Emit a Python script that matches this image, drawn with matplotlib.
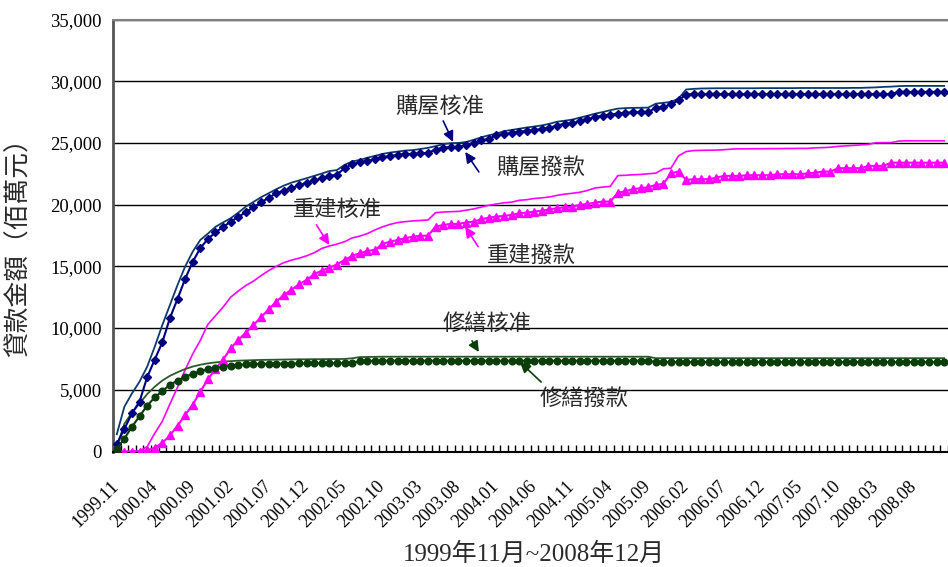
import numpy as np
import matplotlib
matplotlib.use("Agg")
import matplotlib.pyplot as plt
from matplotlib.ticker import FuncFormatter, FixedLocator
from matplotlib.transforms import ScaledTranslation

# ---- data: monthly cumulative loans, 1999.11 .. 2008.12 (unit: 百萬元) ----
tick_labels = ["1999.11", "2000.04", "2000.09", "2001.02", "2001.07", "2001.12",
               "2002.05", "2002.10", "2003.03", "2003.08", "2004.01", "2004.06",
               "2004.11", "2005.04", "2005.09", "2006.02", "2006.07", "2006.12",
               "2007.05", "2007.10", "2008.03", "2008.08"]

purchase_approved = [
    1400, 3630, 4710, 5660, 6870, 8490, 10250, 11870, 13490, 14980,
    16190, 17140, 17650, 18200, 18560, 18900, 19350, 19840, 20220, 20600,
    20920, 21250, 21540, 21780, 21960, 22140, 22330, 22520, 22720, 22800,
    23220, 23500, 23620, 23800, 23950, 24110, 24220, 24300, 24380, 24420,
    24510, 24600, 24740, 24900, 24980, 25000, 25070, 25250, 25450, 25620,
    25750, 25950, 26050, 26150, 26250, 26330, 26420, 26550, 26720, 26800,
    26890, 27050, 27200, 27370, 27500, 27650, 27780, 27820, 27840, 27850,
    27860, 28180, 28250, 28320, 28590, 29330, 29380, 29410, 29420, 29430,
    29430, 29430, 29430, 29430, 29430, 29440, 29440, 29440, 29440, 29440,
    29450, 29450, 29450, 29450, 29450, 29450, 29450, 29460, 29460, 29480,
    29500, 29540, 29560, 29600, 29620, 29620, 29620, 29620, 29620, 29620]

purchase_paid = [
    600, 1830, 3090, 4050, 6020, 7450, 8850, 10820, 12360, 13980,
    15370, 16470, 17220, 17750, 18190, 18620, 19000, 19390, 19780, 20190,
    20550, 20920, 21130, 21340, 21560, 21770, 21960, 22140, 22300, 22440,
    22950, 23270, 23430, 23540, 23670, 23830, 23940, 24020, 24080, 24100,
    24150, 24200, 24460, 24610, 24680, 24680, 24810, 24990, 25200, 25330,
    25620, 25740, 25800, 25900, 26000, 26060, 26100, 26230, 26410, 26550,
    26580, 26760, 26910, 27080, 27220, 27300, 27380, 27440, 27470, 27470,
    27480, 27870, 27920, 28120, 28450, 28920, 28960, 28960, 28960, 28960,
    28960, 28960, 28960, 28960, 28960, 28960, 28960, 28960, 28960, 28960,
    28960, 28960, 28960, 28960, 28960, 28960, 28960, 28960, 28960, 28960,
    28960, 28960, 28960, 29130, 29130, 29130, 29130, 29130, 29130, 29130]

rebuild_approved = [
    0, 0, 0, 50, 390, 1470, 2450, 3850, 5200, 6600,
    7900, 9000, 10300, 11000, 11700, 12500, 13000, 13450, 13800, 14250,
    14650, 15000, 15300, 15500, 15660, 15850, 16100, 16450, 16650, 16800,
    17000, 17300, 17450, 17650, 17950, 18200, 18400, 18550, 18620, 18680,
    18720, 18760, 19350, 19400, 19430, 19450, 19550, 19650, 19800, 19950,
    20050, 20150, 20200, 20350, 20400, 20500, 20550, 20620, 20750, 20850,
    20920, 21000, 21150, 21350, 21420, 21480, 22350, 22380, 22420, 22450,
    22500, 22550, 22900, 22950, 23950, 24300, 24380, 24400, 24410, 24420,
    24450, 24500, 24520, 24520, 24530, 24530, 24540, 24540, 24550, 24550,
    24560, 24560, 24600, 24620, 24650, 24720, 24760, 24800, 24840, 24880,
    25020, 25020, 25030, 25150, 25170, 25170, 25170, 25170, 25170, 25170]

rebuild_paid = [
    0, 0, 0, 0, 100, 300, 700, 1300, 2100, 2950,
    3800, 4850, 5850, 6700, 7450, 8350, 9040, 9630, 10250, 10880,
    11520, 12140, 12680, 13090, 13550, 13900, 14360, 14650, 14900, 15150,
    15520, 15840, 16060, 16250, 16330, 16820, 17000, 17140, 17280, 17410,
    17470, 17490, 18220, 18350, 18440, 18440, 18550, 18630, 18810, 18950,
    19030, 19080, 19170, 19300, 19360, 19430, 19510, 19620, 19710, 19790,
    19840, 19980, 20060, 20160, 20250, 20250, 20950, 21100, 21250, 21330,
    21410, 21600, 21680, 22540, 22680, 22000, 22060, 22060, 22060, 22190,
    22330, 22330, 22330, 22380, 22380, 22380, 22380, 22460, 22460, 22460,
    22460, 22540, 22590, 22680, 22680, 22950, 22950, 22950, 22950, 23140,
    23140, 23140, 23400, 23400, 23400, 23400, 23400, 23400, 23400, 23400]

repair_approved = [
    400, 2250, 3150, 3900, 4650, 5250, 5750, 6130, 6420, 6680,
    6880, 7030, 7140, 7220, 7280, 7320, 7360, 7380, 7400, 7420,
    7430, 7440, 7450, 7460, 7470, 7470, 7480, 7480, 7490, 7490,
    7500, 7550, 7650, 7660, 7670, 7680, 7680, 7680, 7680, 7680,
    7680, 7680, 7680, 7680, 7680, 7680, 7680, 7680, 7680, 7680,
    7680, 7680, 7680, 7680, 7680, 7680, 7680, 7680, 7680, 7680,
    7680, 7680, 7680, 7680, 7680, 7680, 7680, 7680, 7680, 7680,
    7680, 7560, 7560, 7560, 7560, 7560, 7560, 7560, 7560, 7560,
    7560, 7560, 7560, 7560, 7560, 7560, 7560, 7560, 7560, 7560,
    7560, 7560, 7560, 7560, 7560, 7560, 7560, 7560, 7560, 7560,
    7560, 7560, 7560, 7560, 7560, 7560, 7560, 7560, 7560, 7560]

repair_paid = [
    230, 1050, 2010, 2860, 3720, 4380, 4900, 5400, 5750, 6040,
    6300, 6500, 6660, 6780, 6870, 6950, 7010, 7050, 7090, 7090,
    7100, 7110, 7120, 7120, 7130, 7130, 7140, 7140, 7150, 7150,
    7150, 7160, 7330, 7340, 7340, 7350, 7350, 7350, 7350, 7350,
    7350, 7350, 7350, 7350, 7350, 7350, 7350, 7350, 7350, 7350,
    7350, 7350, 7350, 7350, 7350, 7350, 7350, 7350, 7350, 7350,
    7350, 7350, 7350, 7350, 7350, 7350, 7350, 7350, 7350, 7350,
    7350, 7250, 7250, 7250, 7250, 7250, 7250, 7250, 7250, 7250,
    7250, 7250, 7250, 7250, 7250, 7250, 7250, 7250, 7250, 7250,
    7250, 7250, 7250, 7250, 7250, 7250, 7250, 7250, 7250, 7250,
    7250, 7250, 7250, 7250, 7250, 7250, 7250, 7250, 7250, 7250]

# ---- styling ----
CJK = ["Noto Sans CJK TC", "DejaVu Sans"]
SERIF = ["Liberation Serif", "Noto Sans CJK TC"]
NAVY = "#000080"
NAVY_LINE = "#0d3a6b"
MAGENTA = "#ff00ff"
GREEN = "#0b3d0b"
GREEN_LINE = "#2a5a2a"
TEXT = "#2a2a2a"

W, H = 948, 567
fig = plt.figure(figsize=(W / 100, H / 100), dpi=100)
ax = fig.add_axes([113 / W, 115.5 / H, 835 / W, 432 / H])

n = len(purchase_paid)
x = np.arange(n)

ax.plot(x, purchase_approved, color=NAVY_LINE, lw=1.3, zorder=3)
ax.plot(x, purchase_paid, color=NAVY, lw=1.5, marker="D", ms=4.2,
        mec=NAVY, mfc=NAVY, zorder=4)
ax.plot(x, rebuild_approved, color=MAGENTA, lw=1.2, zorder=3)
ax.plot(x, rebuild_paid, color=MAGENTA, lw=1.5, marker="^", ms=5.2,
        mec=MAGENTA, mfc=MAGENTA, zorder=4)
ax.plot(x, repair_approved, color=GREEN_LINE, lw=1.3, zorder=3)
ax.plot(x, repair_paid, color=GREEN, lw=1.5, marker="o", ms=4.8,
        mec=GREEN, mfc=GREEN, zorder=4)

ax.set_xlim(-0.5, n - 0.5)
ax.set_ylim(0, 35000)

# y axis
ax.set_yticks(np.arange(0, 35001, 5000))
ax.yaxis.set_major_formatter(FuncFormatter(lambda v, p: f"{int(v):,}"))
ax.yaxis.grid(True, color="black", lw=1.0)
ax.set_axisbelow(True)
ax.tick_params(axis="y", length=0, pad=8, labelsize=13.5)
for lab in ax.get_yticklabels():
    lab.set_fontfamily(SERIF)

# x axis: a tick mark between every month, a label every five months
ax.xaxis.set_minor_locator(FixedLocator(np.arange(-0.5, n, 1.0)))
ax.set_xticks(np.arange(0, n, 5)[:len(tick_labels)])
ax.set_xticklabels(tick_labels, rotation=45, ha="right", va="top",
                   rotation_mode="anchor", fontsize=13, family=SERIF)
ax.tick_params(axis="x", which="major", length=0, pad=19)
ax.tick_params(axis="x", which="minor", direction="in", length=5,
               width=1.0, color="black")
shift = ScaledTranslation(-6 / 100, 0, fig.dpi_scale_trans)
for lab in ax.get_xticklabels():
    lab.set_transform(lab.get_transform() + shift)

ax.spines["left"].set_color("#555555")
ax.spines["left"].set_linewidth(2.0)
ax.spines["bottom"].set_color("black")
ax.spines["bottom"].set_linewidth(1.5)
ax.spines["top"].set_color("#808080")
ax.spines["top"].set_linewidth(1.5)
ax.spines["right"].set_visible(False)

# series annotations
notes = [
    ("購屋核准", (42.6, 27920), (43.0, 26780), (44.3, 25080), NAVY),
    ("購屋撥款", (55.8, 23060), (47.7, 22650), (45.9, 24270), NAVY),
    ("重建核准", (29.0, 19570), (26.3, 18360), (28.0, 16730), MAGENTA),
    ("重建撥款", (54.6, 15850), (47.6, 16600), (45.9, 18220), MAGENTA),
    ("修繕核准", (48.8, 10410), (46.8, 8960), (47.7, 8060), GREEN),
    ("修繕撥款", (61.6, 4340), (55.9, 5630), (53.1, 7250), GREEN),
]
for text, tpos, tail, head, col in notes:
    ax.text(*tpos, text, ha="center", va="center", fontsize=16,
            family=CJK, color=TEXT, zorder=6)
    ax.annotate("", xy=head, xytext=tail,
                arrowprops=dict(arrowstyle="-|>,head_length=0.45,head_width=0.22",
                                color=col, lw=1.2, mutation_scale=14,
                                shrinkA=0, shrinkB=0), zorder=6)

fig.text(19 / W, 1 - 241 / H, "貸款金額（佰萬元）", rotation=90, ha="center",
         va="center", fontsize=18.5, family=CJK, color=TEXT)
fig.text(534 / W, 1 - 554 / H, "1999年11月~2008年12月", ha="center",
         va="center", fontsize=18, family=SERIF, color=TEXT)

fig.savefig("out.png", dpi=100)
